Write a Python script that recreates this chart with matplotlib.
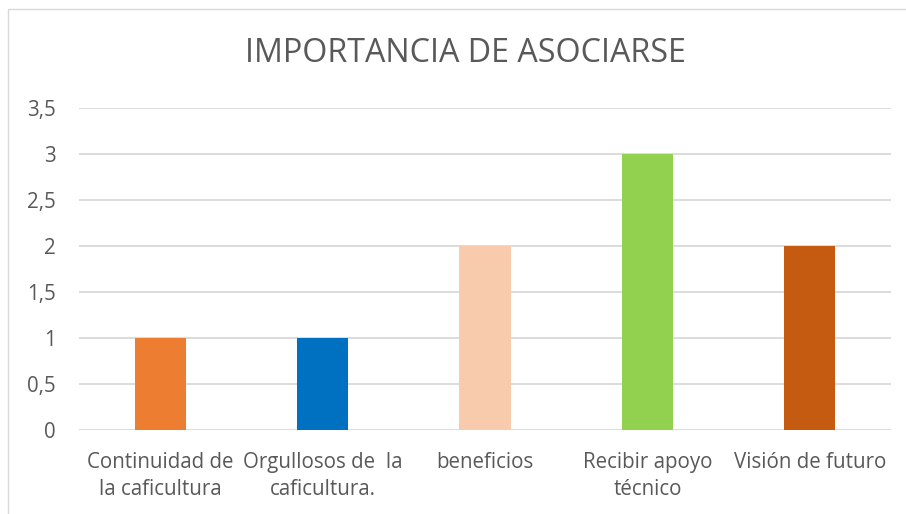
import matplotlib
matplotlib.use("Agg")
import matplotlib.pyplot as plt
from matplotlib.patches import Rectangle

categories = ["Continuidad de\nla caficultura", "Orgullosos de  la\ncaficultura.", "beneficios",
              "Recibir apoyo\ntécnico", "Visión de futuro"]
values = [1, 1, 2, 3, 2]
colors = ["#ED7D31", "#0070C0", "#F8CBAD", "#92D050", "#C55A11"]
yticks = [0, 0.5, 1, 1.5, 2, 2.5, 3, 3.5]
ytick_labels = ["0", "0,5", "1", "1,5", "2", "2,5", "3", "3,5"]
title = "IMPORTANCIA DE ASOCIARSE"

plt.rcParams['font.family'] = ['Open Sans', 'DejaVu Sans']
txt = "#595959"

fig = plt.figure(figsize=(9.06, 5.14), dpi=100)
fig.patches.append(Rectangle((8/906, -0.1), 2, 1 - 9/514 + 0.1, transform=fig.transFigure,
                             fill=False, edgecolor="#D9D9D9", linewidth=1))
ax = fig.add_axes([79/906, 1 - 430/514, 812/906, (430 - 107.7)/514])
x = list(range(len(categories)))
ax.bar(x, values, width=0.315, color=colors, zorder=3)
ax.set_xlim(-0.5, len(categories) - 0.5)
ax.set_ylim(0, 3.5)
ax.set_yticks(yticks)
ax.set_yticklabels(ytick_labels)
ax.set_xticks(x)
ax.set_xticklabels(categories, linespacing=1.38)
for s in ax.spines.values():
    s.set_visible(False)
ax.grid(axis="y", color="#D9D9D9", linewidth=1.3, zorder=0)
ax.tick_params(axis="both", length=0, colors=txt, labelsize=14.8)
ax.tick_params(axis="y", pad=17)
ax.tick_params(axis="x", pad=16)
fig.text(465/906, 1 - 54/514, title, ha="center", va="center", fontsize=23.2, color=txt)
fig.savefig("out.png", dpi=100)
